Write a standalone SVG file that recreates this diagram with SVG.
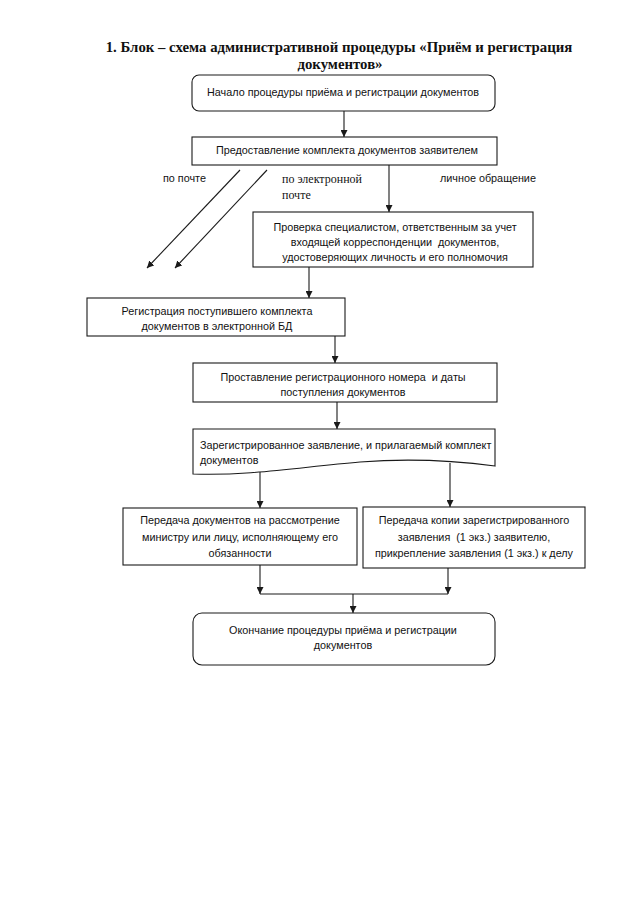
<svg xmlns="http://www.w3.org/2000/svg" width="635" height="905" viewBox="0 0 635 905">
<style>
.box{fill:#fff;stroke:#1a1a1a;stroke-width:1.1}
.t{font-family:"Liberation Sans",Arial,sans-serif;font-size:10.8px;fill:#111;text-anchor:middle}
.tl{font-family:"Liberation Sans",Arial,sans-serif;font-size:10.8px;fill:#111}
.ts{font-family:"Liberation Serif","Times New Roman",serif;font-size:12px;fill:#111}
.title{font-family:"Liberation Serif","Times New Roman",serif;font-size:14.8px;font-weight:bold;fill:#111;text-anchor:middle}
.c{stroke:#1a1a1a;stroke-width:1.1;fill:none}
</style>
<defs>
<marker id="ah" viewBox="0 0 10 10" refX="10" refY="5" markerWidth="7" markerHeight="7" markerUnits="userSpaceOnUse" orient="auto">
<path d="M0,0 L10,5 L0,10 z" fill="#1a1a1a"/>
</marker>
</defs>
<rect width="635" height="905" fill="#fff"/>
<g id="title">
<text class="title" x="339" y="52">1. Блок – схема административной процедуры «Приём и регистрация</text>
<text class="title" x="340" y="69">документов»</text>
</g>
<g id="connectors">
<line class="c" x1="344" y1="111" x2="344" y2="137" marker-end="url(#ah)"/>
<line class="c" x1="240" y1="170" x2="147" y2="268" marker-end="url(#ah)"/>
<line class="c" x1="267" y1="170" x2="175" y2="268" marker-end="url(#ah)"/>
<line class="c" x1="389" y1="165" x2="389" y2="212" marker-end="url(#ah)"/>
<line class="c" x1="309" y1="267" x2="309" y2="298" marker-end="url(#ah)"/>
<line class="c" x1="335" y1="336" x2="335" y2="363" marker-end="url(#ah)"/>
<line class="c" x1="337" y1="402" x2="337" y2="429" marker-end="url(#ah)"/>
<line class="c" x1="260" y1="472" x2="260" y2="508" marker-end="url(#ah)"/>
<line class="c" x1="450" y1="463" x2="450" y2="507" marker-end="url(#ah)"/>
<line class="c" x1="260" y1="565" x2="260" y2="594" marker-end="url(#ah)"/>
<line class="c" x1="448" y1="568" x2="448" y2="594" marker-end="url(#ah)"/>
<line class="c" x1="260" y1="594" x2="448" y2="594"/>
<line class="c" x1="353" y1="594" x2="353" y2="613" marker-end="url(#ah)"/>
</g>
<g id="labels">
<text class="tl" x="163" y="182">по почте</text>
<text class="ts" x="282" y="183">по электронной</text>
<text class="ts" x="282" y="199">почте</text>
<text class="tl" x="440" y="182">личное обращение</text>
</g>
<g id="n1">
<rect class="box" x="192" y="75" width="303" height="36" rx="7"/>
<text class="t" x="343" y="96">Начало процедуры приёма и регистрации документов</text>
</g>
<g id="n2">
<rect class="box" x="192" y="137" width="305" height="28"/>
<text class="t" x="347" y="154">Предоставление комплекта документов заявителем</text>
</g>
<g id="n3">
<rect class="box" x="253" y="212" width="280" height="55"/>
<text class="t" x="395" y="231">Проверка специалистом, ответственным за учет</text>
<text class="t" x="395" y="246" xml:space="preserve">входящей корреспонденции  документов,</text>
<text class="t" x="395" y="261">удостоверяющих личность и его полномочия</text>
</g>
<g id="n4">
<rect class="box" x="87" y="298" width="258" height="38"/>
<text class="t" x="217" y="315">Регистрация поступившего комплекта</text>
<text class="t" x="217" y="330">документов в электронной БД</text>
</g>
<g id="n5">
<rect class="box" x="193" y="363" width="304" height="39"/>
<text class="t" x="343" y="381" xml:space="preserve">Проставление регистрационного номера  и даты</text>
<text class="t" x="343" y="396">поступления документов</text>
</g>
<g id="n6">
<path class="box" d="M193,429 H495 V466 C450,460 410,458 360,462 C300,467 250,476 193,474 Z"/>
<text class="tl" x="200" y="449">Зарегистрированное заявление, и прилагаемый комплект</text>
<text class="tl" x="200" y="464">документов</text>
</g>
<g id="n7">
<rect class="box" x="123" y="508" width="234" height="57"/>
<text class="t" x="240" y="524">Передача документов на рассмотрение</text>
<text class="t" x="240" y="541">министру или лицу, исполняющему его</text>
<text class="t" x="240" y="557">обязанности</text>
</g>
<g id="n8">
<rect class="box" x="363" y="507" width="222" height="61"/>
<text class="t" x="474" y="524">Передача копии зарегистрированного</text>
<text class="t" x="474" y="541" xml:space="preserve">заявления  (1 экз.) заявителю,</text>
<text class="t" x="474" y="557">прикрепление заявления (1 экз.) к делу</text>
</g>
<g id="n9">
<rect class="box" x="193" y="613" width="302" height="52" rx="9"/>
<text class="t" x="343" y="634">Окончание процедуры приёма и регистрации</text>
<text class="t" x="343" y="649">документов</text>
</g>
</svg>
